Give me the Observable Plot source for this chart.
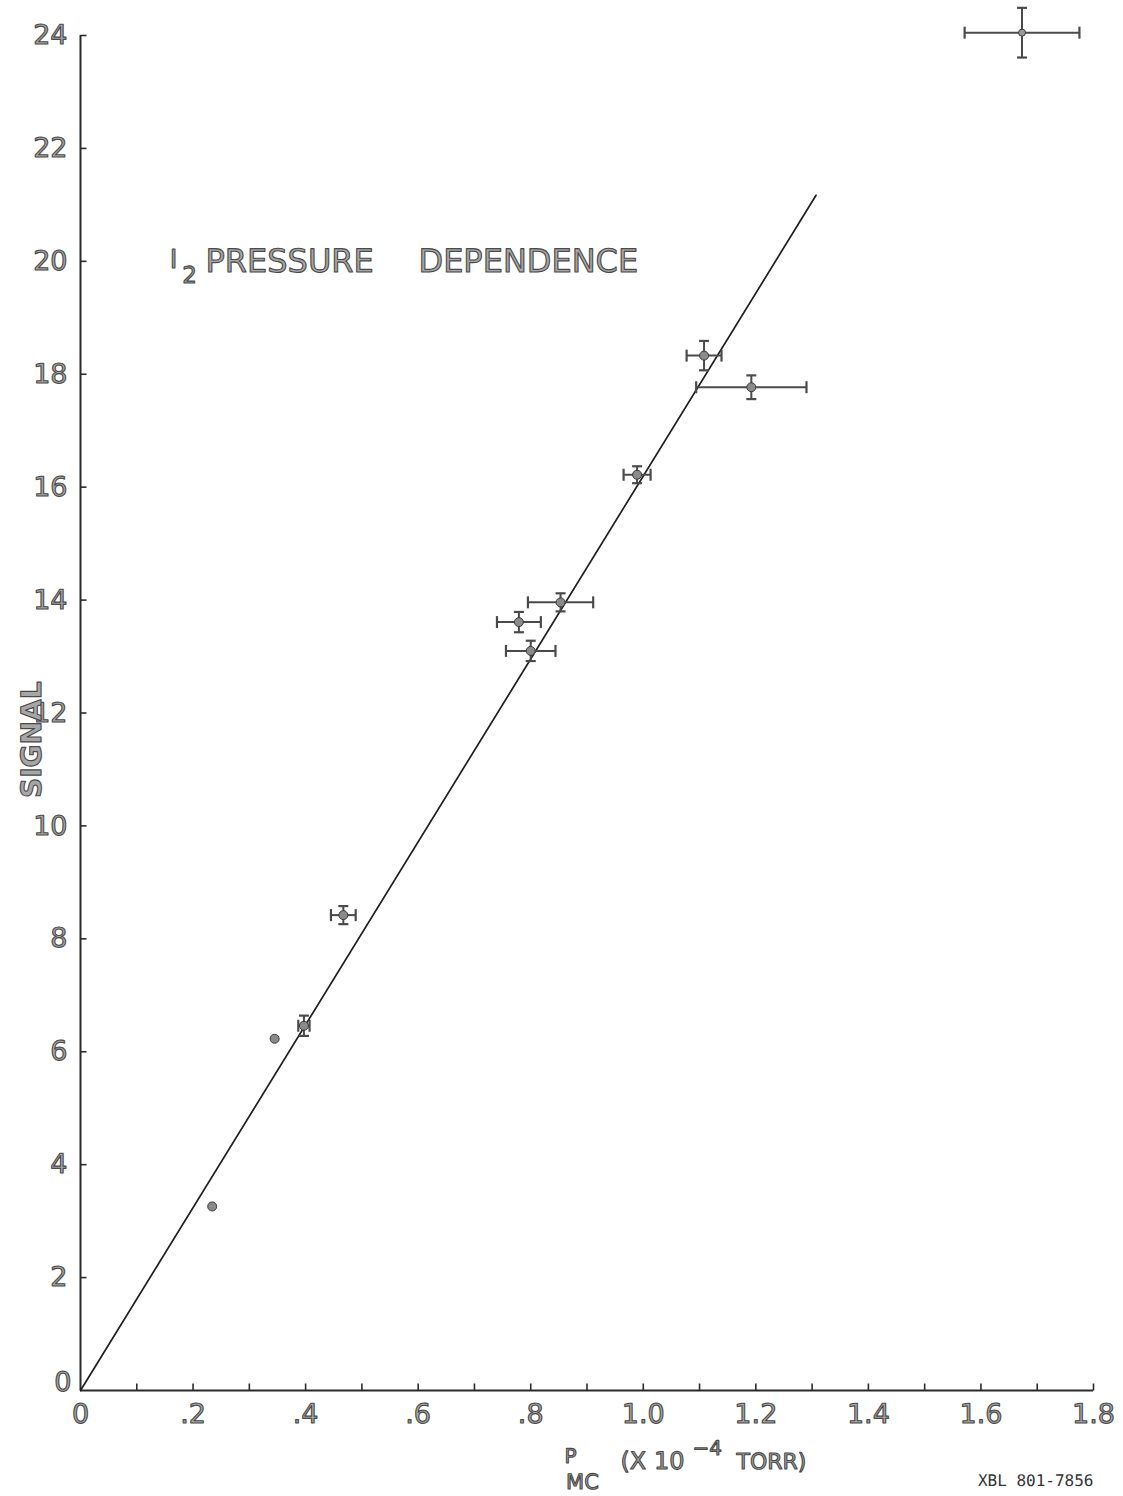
<!DOCTYPE html>
<html>
<head>
<meta charset="utf-8">
<script src="https://cdn.jsdelivr.net/npm/d3@7"></script>
<script src="https://cdn.jsdelivr.net/npm/@observablehq/plot@0.6"></script>
<style>
  body { margin: 0; background: #fff; }
  svg text { text-rendering: geometricPrecision; }
</style>
</head>
<body>
<div id="chart"></div>
<script>
// I2 signal versus mass-chamber pressure P_MC (units of 1e-4 torr)
const pressure    = [0.234, 0.345, 0.397, 0.467, 0.779, 0.800, 0.853, 0.989, 1.108, 1.192];
const signal      = [3.26, 6.23, 6.46, 8.42, 13.61, 13.10, 13.96, 16.22, 18.33, 17.77];
const pressureErr = [0, 0, 0.010, 0.022, 0.039, 0.044, 0.058, 0.024, 0.031, 0.098];
const signalErr   = [0, 0, 0.18, 0.16, 0.18, 0.18, 0.16, 0.15, 0.26, 0.21];

// typical error bar, drawn in the upper right corner
const samplePressure    = [1.673];
const sampleSignal      = [24.05];
const samplePressureErr = [0.102];
const sampleSignalErr   = [0.44];

// straight-line fit through the origin
const fitPressure = [0, 1.307];
const fitSignal   = [0, 21.17];

// axes
const xMinorTicks = [0.1, 0.2, 0.3, 0.4, 0.5, 0.6, 0.7, 0.8, 0.9, 1.0, 1.1, 1.2, 1.3, 1.4, 1.5, 1.6, 1.7, 1.8];
const xTickValues = [0, 0.2, 0.4, 0.6, 0.8, 1.0, 1.2, 1.4, 1.6, 1.8];
const xTickLabels = ["0", ".2", ".4", ".6", ".8", "1.0", "1.2", "1.4", "1.6", "1.8"];
const yTickValues = [2, 4, 6, 8, 10, 12, 14, 16, 18, 20, 22, 24];
const yTickLabels = ["2", "4", "6", "8", "10", "12", "14", "16", "18", "20", "22", "24"];
const yOriginLabel = ["0"];

const points = pressure.map((x, i) => ({x, y: signal[i], ex: pressureErr[i], ey: signalErr[i]}));
const sample = samplePressure.map((x, i) => ({x, y: sampleSignal[i], ex: samplePressureErr[i], ey: sampleSignalErr[i]}));
const withBars = points.filter(d => d.ex > 0).concat(sample);
const fit = fitPressure.map((x, i) => ({x, y: fitSignal[i]}));
const xTicks = xTickValues.map((v, i) => ({v, label: xTickLabels[i]}));
const yTicks = yTickValues.map((v, i) => ({v, label: yTickLabels[i]}));

// small line-shaped symbols: length in px = r
const len = size => Math.sqrt(size / Math.PI);
const tickUp    = {draw(c, s) { const l = len(s); c.moveTo(0, 0); c.lineTo(0, -l); }};
const tickRight = {draw(c, s) { const l = len(s); c.moveTo(0, 0); c.lineTo(l, 0); }};
const capV      = {draw(c, s) { const l = len(s); c.moveTo(0, -l); c.lineTo(0, l); }};
const capH      = {draw(c, s) { const l = len(s); c.moveTo(-l, 0); c.lineTo(l, 0); }};

const ink = "#2b2b2b";
const lettering = {
  fontFamily: "DejaVu Sans, Verdana, sans-serif",
  fill: "#a6a6a6",
  stroke: "#4a4a4a",
  strokeWidth: 1.1,
  paintOrder: "fill"
};

const chart = Plot.plot({
  width: 1123,
  height: 1496,
  marginLeft: 80,
  marginRight: 30,
  marginTop: 35,
  marginBottom: 106,
  x: {domain: [0, 1.8], axis: null},
  y: {domain: [0, 24], axis: null},
  marks: [
    // axis lines and ticks
    Plot.ruleY([0], {stroke: ink, strokeWidth: 2}),
    Plot.ruleX([0], {stroke: ink, strokeWidth: 2}),
    Plot.dot(xMinorTicks, {x: d => d, y: () => 0, symbol: tickUp, r: 7, stroke: ink, strokeWidth: 1.6, fill: "none"}),
    Plot.dot(yTickValues, {x: () => 0, y: d => d, symbol: tickRight, r: 6, stroke: ink, strokeWidth: 1.6, fill: "none"}),
    Plot.text(xTicks, {x: "v", y: () => 0, text: "label", dy: 24, fontSize: 27, ...lettering}),
    Plot.text(yTicks, {x: () => 0, y: "v", text: "label", dx: -13, textAnchor: "end", fontSize: 27, ...lettering}),
    Plot.text(yOriginLabel, {x: () => 0, y: () => 0, text: d => d, dx: -9, dy: -8, textAnchor: "end", fontSize: 27, ...lettering}),

    // fitted line
    Plot.line(fit, {x: "x", y: "y", stroke: "#1e1e1e", strokeWidth: 1.7}),

    // error bars with end caps
    Plot.link(withBars, {x1: d => d.x - d.ex, x2: d => d.x + d.ex, y1: "y", y2: "y", stroke: "#4a4a4a", strokeWidth: 2}),
    Plot.link(withBars, {x1: "x", x2: "x", y1: d => d.y - d.ey, y2: d => d.y + d.ey, stroke: "#4a4a4a", strokeWidth: 2}),
    Plot.dot(withBars, {x: d => d.x - d.ex, y: "y", symbol: capV, r: 6, stroke: "#4a4a4a", strokeWidth: 2.2, fill: "none"}),
    Plot.dot(withBars, {x: d => d.x + d.ex, y: "y", symbol: capV, r: 6, stroke: "#4a4a4a", strokeWidth: 2.2, fill: "none"}),
    Plot.dot(withBars, {x: "x", y: d => d.y - d.ey, symbol: capH, r: 5, stroke: "#4a4a4a", strokeWidth: 2.2, fill: "none"}),
    Plot.dot(withBars, {x: "x", y: d => d.y + d.ey, symbol: capH, r: 5, stroke: "#4a4a4a", strokeWidth: 2.2, fill: "none"}),

    // measured points
    Plot.dot(points, {x: "x", y: "y", r: 4.5, fill: "#8a8a8a", stroke: "#3a3a3a", strokeWidth: 1}),
    Plot.dot(sample, {x: "x", y: "y", r: 3.5, fill: "#9a9a9a", stroke: "#3a3a3a", strokeWidth: 1}),

    // chart title inside the frame
    Plot.text(["I"], {frameAnchor: "top-left", dx: 93, dy: 224, lineAnchor: "middle", textAnchor: "middle", fontSize: 26, ...lettering}),
    Plot.text(["2"], {frameAnchor: "top-left", dx: 109, dy: 240, lineAnchor: "middle", textAnchor: "middle", fontSize: 23, ...lettering}),
    Plot.text(["PRESSURE"], {frameAnchor: "top-left", dx: 125, dy: 226, lineAnchor: "middle", textAnchor: "start", fontSize: 32, ...lettering}),
    Plot.text(["DEPENDENCE"], {frameAnchor: "top-left", dx: 338, dy: 226, lineAnchor: "middle", textAnchor: "start", fontSize: 32, ...lettering}),

    // y-axis title
    Plot.text(["SIGNAL"], {frameAnchor: "left", dx: -48, dy: 85, rotate: -90, fontSize: 28, fontWeight: "bold", ...lettering}),

    // x-axis title: P with MC subscript, (X 10^-4 TORR)
    Plot.text(["P"], {frameAnchor: "bottom-left", dx: 490, dy: 66, lineAnchor: "middle", textAnchor: "middle", fontSize: 20, ...lettering}),
    Plot.text(["MC"], {frameAnchor: "bottom-left", dx: 502, dy: 92, lineAnchor: "middle", textAnchor: "middle", fontSize: 21, ...lettering}),
    Plot.text(["(X 10"], {frameAnchor: "bottom-left", dx: 540, dy: 78, textAnchor: "start", fontSize: 24, ...lettering}),
    Plot.text(["\u22124"], {frameAnchor: "bottom-left", dx: 612, dy: 64, textAnchor: "start", fontSize: 20, ...lettering}),
    Plot.text(["TORR)"], {frameAnchor: "bottom-left", dx: 656, dy: 78, textAnchor: "start", fontSize: 22, ...lettering}),

    // drawing number
    Plot.text(["XBL 801-7856"], {frameAnchor: "bottom-right", dx: 0, dy: 95, textAnchor: "end", fontSize: 16, fontFamily: "DejaVu Sans Mono, monospace", fill: "#333"})
  ]
});

document.getElementById("chart").append(chart);
</script>
</body>
</html>
